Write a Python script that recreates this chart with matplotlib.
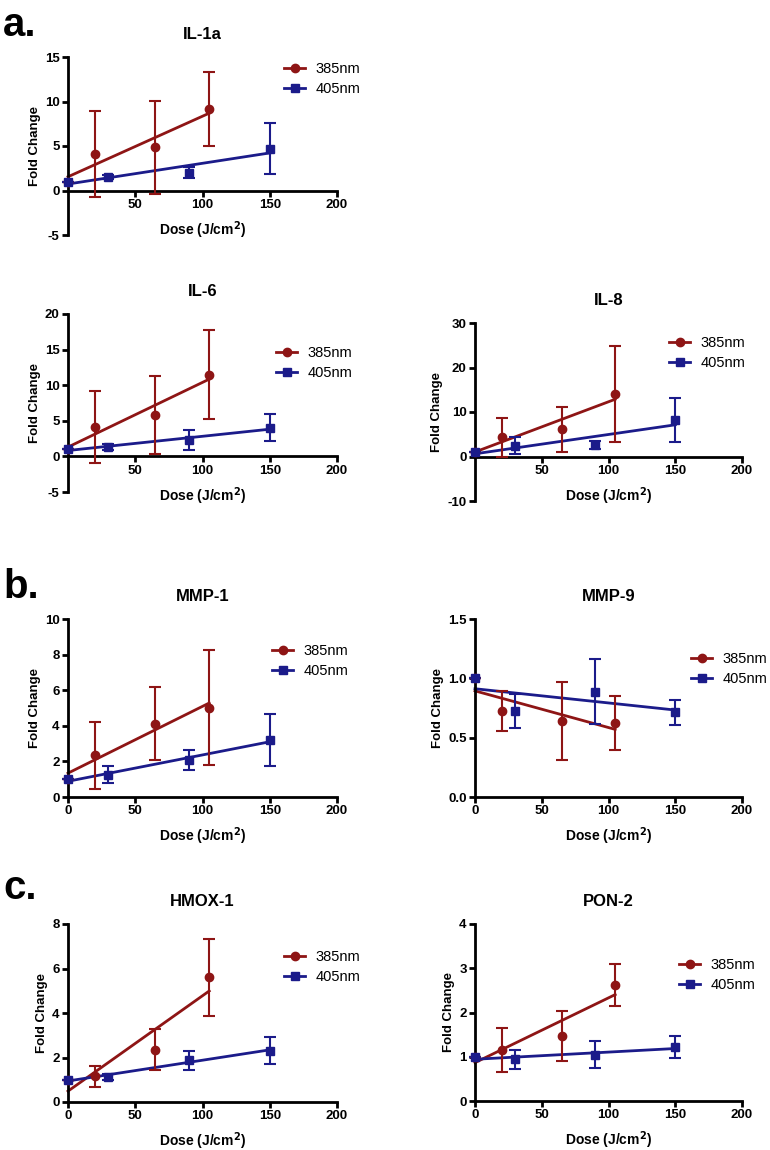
import numpy as np
import matplotlib
matplotlib.use("Agg")
import matplotlib.pyplot as plt
from matplotlib.lines import Line2D

plt.rcParams['font.family'] = ['Liberation Sans', 'DejaVu Sans']

# Doses (J/cm2) for each wavelength
dose_385 = [0, 20, 65, 105]
dose_405 = [0, 30, 90, 150]

# IL-1a
il1a_385 = [1.0, 4.1, 4.85, 9.15]
il1a_385_err = [0, 4.8, 5.2, 4.2]
il1a_405 = [1.0, 1.5, 2.0, 4.7]
il1a_405_err = [0, 0.2, 0.6, 2.9]

# IL-6
il6_385 = [1.0, 4.15, 5.85, 11.5]
il6_385_err = [0, 5.1, 5.5, 6.3]
il6_405 = [1.0, 1.35, 2.35, 4.0]
il6_405_err = [0, 0.4, 1.4, 1.9]

# IL-8
il8_385 = [1.0, 4.35, 6.1, 14.05]
il8_385_err = [0, 4.4, 5.0, 10.7]
il8_405 = [1.0, 2.4, 2.55, 8.2]
il8_405_err = [0, 1.95, 0.9, 5.05]

# MMP-1
mmp1_385 = [1.0, 2.35, 4.12, 5.02]
mmp1_385_err = [0, 1.88, 2.04, 3.22]
mmp1_405 = [1.0, 1.25, 2.08, 3.2]
mmp1_405_err = [0, 0.48, 0.57, 1.47]

# MMP-9
mmp9_385 = [1.0, 0.727, 0.64, 0.623]
mmp9_385_err = [0, 0.168, 0.327, 0.227]
mmp9_405 = [1.0, 0.725, 0.888, 0.713]
mmp9_405_err = [0, 0.14, 0.272, 0.106]

# HMOX-1
hmox1_385 = [1.0, 1.15, 2.35, 5.6]
hmox1_385_err = [0, 0.47, 0.91, 1.74]
hmox1_405 = [1.0, 1.11, 1.88, 2.31]
hmox1_405_err = [0, 0.13, 0.42, 0.59]

# PON-2
pon2_385 = [1.0, 1.16, 1.47, 2.62]
pon2_385_err = [0, 0.5, 0.575, 0.465]
pon2_405 = [1.0, 0.94, 1.05, 1.22]
pon2_405_err = [0, 0.21, 0.3, 0.24]

RED = '#8e1515'
BLUE = '#1b1b8a'
W, H = 770, 1150


def make_axes(fig, left, right, top, bottom):
    return fig.add_axes([left / W, 1 - bottom / H, (right - left) / W, (bottom - top) / H])


def draw_panel(ax, title, y385, e385, y405, e405, ylim, yticks, ylabels, xticks, legend_xy):
    for x, y, e, col, mk in [(dose_385, y385, e385, RED, 'o'), (dose_405, y405, e405, BLUE, 's')]:
        x = np.array(x, dtype=float)
        y = np.array(y)
        # linear fit through the means, drawn over the dose range
        slope, icpt = np.polyfit(x, y, 1)
        xs = np.array([0, x.max()])
        ax.plot(xs, icpt + slope * xs, color=col, lw=2.0, zorder=2, clip_on=False)
        ax.errorbar(x, y, yerr=e, fmt=mk, color=col, ms=6,
                    ecolor=col, elinewidth=1.5, capsize=4, capthick=1.5, zorder=3, clip_on=False)
    ax.set_xlim(0, 200)
    ax.set_ylim(*ylim)
    ax.set_xticks(xticks)
    ax.set_yticks(yticks)
    ax.set_yticklabels(ylabels)
    for s in ['top', 'right']:
        ax.spines[s].set_visible(False)
    ax.spines['bottom'].set_position(('data', 0))
    for s in ['left', 'bottom']:
        ax.spines[s].set_linewidth(2.0)
    ax.tick_params(width=2.0, length=4, labelsize=9.5, pad=2)
    for lab in ax.get_xticklabels() + ax.get_yticklabels():
        lab.set_fontweight('bold')
    ax.set_title(title, fontsize=12, fontweight='bold', pad=13)
    ax.set_ylabel('Fold Change', fontsize=9.5, fontweight='bold', labelpad=3)
    ax.set_xlabel('Dose (J/cm$^\\mathbf{2}$)', fontsize=10, fontweight='bold', labelpad=6)
    handles = [Line2D([], [], color=RED, marker='o', ms=6, lw=2.0),
               Line2D([], [], color=BLUE, marker='s', ms=6, lw=2.0)]
    ax.legend(handles, ['385nm', '405nm'], loc='upper left', frameon=False,
              bbox_to_anchor=(legend_xy[0] / W, 1 - legend_xy[1] / H),
              bbox_transform=ax.figure.transFigure, fontsize=10.5,
              borderpad=0, borderaxespad=0, handlelength=1.45, handletextpad=0.7,
              labelspacing=0.4)


fig = plt.figure(figsize=(W / 100, H / 100), dpi=100)

ax = make_axes(fig, 68, 337, 57, 235)
draw_panel(ax, 'IL-1a', il1a_385, il1a_385_err, il1a_405, il1a_405_err,
           (-5, 15), [-5, 0, 5, 10, 15], ['-5', '0', '5', '10', '15'], [50, 100, 150, 200], (284, 62))

ax = make_axes(fig, 68, 337, 314, 492)
draw_panel(ax, 'IL-6', il6_385, il6_385_err, il6_405, il6_405_err,
           (-5, 20), [-5, 0, 5, 10, 15, 20], ['-5', '0', '5', '10', '15', '20'], [50, 100, 150, 200], (276, 346))

ax = make_axes(fig, 475, 742, 323, 501)
draw_panel(ax, 'IL-8', il8_385, il8_385_err, il8_405, il8_405_err,
           (-10, 30), [-10, 0, 10, 20, 30], ['-10', '0', '10', '20', '30'], [50, 100, 150, 200], (669, 336))

ax = make_axes(fig, 68, 337, 619, 797)
draw_panel(ax, 'MMP-1', mmp1_385, mmp1_385_err, mmp1_405, mmp1_405_err,
           (0, 10), [0, 2, 4, 6, 8, 10], ['0', '2', '4', '6', '8', '10'], [0, 50, 100, 150, 200], (272, 644))

ax = make_axes(fig, 475, 742, 619, 797)
draw_panel(ax, 'MMP-9', mmp9_385, mmp9_385_err, mmp9_405, mmp9_405_err,
           (0, 1.5), [0, 0.5, 1.0, 1.5], ['0.0', '0.5', '1.0', '1.5'], [0, 50, 100, 150, 200], (691, 652))

ax = make_axes(fig, 68, 337, 924, 1102)
draw_panel(ax, 'HMOX-1', hmox1_385, hmox1_385_err, hmox1_405, hmox1_405_err,
           (0, 8), [0, 2, 4, 6, 8], ['0', '2', '4', '6', '8'], [0, 50, 100, 150, 200], (284, 950))

ax = make_axes(fig, 475, 742, 924, 1101)
draw_panel(ax, 'PON-2', pon2_385, pon2_385_err, pon2_405, pon2_405_err,
           (0, 4), [0, 1, 2, 3, 4], ['0', '1', '2', '3', '4'], [0, 50, 100, 150, 200], (679, 958))

# panel letters
for letter, y in [('a.', 36), ('b.', 598), ('c.', 899)]:
    fig.text(3 / W, 1 - y / H, letter, fontsize=29, fontweight='bold', va='baseline', ha='left')

fig.savefig('out.png', dpi=100)
